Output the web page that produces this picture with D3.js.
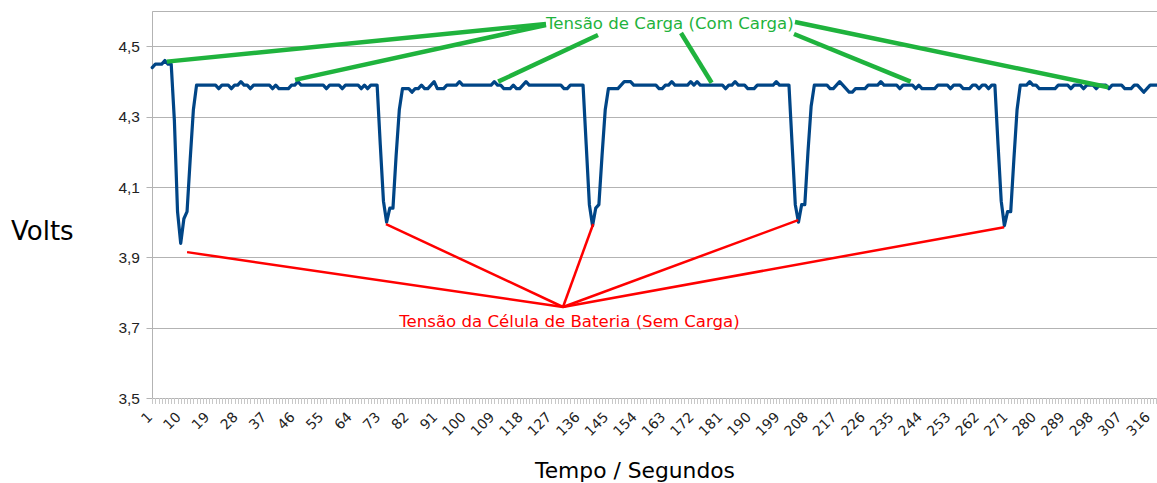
<!DOCTYPE html>
<html>
<head>
<meta charset="utf-8">
<script src="https://cdn.jsdelivr.net/npm/d3@7"></script>
<style>
  html, body { margin: 0; padding: 0; background: #fff; }
  svg { display: block; }
</style>
</head>
<body>
<svg id="chart" width="1157" height="483"></svg>
<script>
// Cell voltage sampled once per second (index 1..318)
const volts = [
  4.44, 4.45, 4.45, 4.45, 4.46, 4.45, 4.45, 4.29, 4.03, 3.94,
  4.01, 4.03, 4.18, 4.32, 4.39, 4.39, 4.39, 4.39, 4.39, 4.39,
  4.39, 4.38, 4.39, 4.39, 4.39, 4.38, 4.39, 4.39, 4.40, 4.39,
  4.39, 4.38, 4.39, 4.39, 4.39, 4.39, 4.39, 4.39, 4.38, 4.39,
  4.38, 4.38, 4.38, 4.38, 4.39, 4.39, 4.40, 4.39, 4.39, 4.39,
  4.39, 4.39, 4.39, 4.39, 4.39, 4.38, 4.39, 4.39, 4.39, 4.39,
  4.38, 4.39, 4.39, 4.39, 4.39, 4.39, 4.38, 4.39, 4.38, 4.39,
  4.39, 4.39, 4.22, 4.06, 4.00, 4.04, 4.04, 4.19, 4.32, 4.38,
  4.38, 4.38, 4.37, 4.38, 4.38, 4.39, 4.38, 4.38, 4.39, 4.40,
  4.38, 4.38, 4.38, 4.39, 4.39, 4.39, 4.39, 4.40, 4.39, 4.39,
  4.39, 4.39, 4.39, 4.39, 4.39, 4.39, 4.39, 4.39, 4.40, 4.39,
  4.39, 4.38, 4.38, 4.38, 4.39, 4.38, 4.38, 4.39, 4.40, 4.39,
  4.39, 4.39, 4.39, 4.39, 4.39, 4.39, 4.39, 4.39, 4.39, 4.39,
  4.38, 4.38, 4.39, 4.39, 4.39, 4.39, 4.39, 4.22, 4.05, 3.99,
  4.04, 4.05, 4.19, 4.32, 4.38, 4.38, 4.38, 4.38, 4.39, 4.40,
  4.40, 4.40, 4.39, 4.39, 4.39, 4.39, 4.39, 4.39, 4.39, 4.39,
  4.38, 4.38, 4.39, 4.39, 4.40, 4.39, 4.39, 4.39, 4.39, 4.39,
  4.40, 4.39, 4.40, 4.39, 4.39, 4.39, 4.39, 4.39, 4.39, 4.39,
  4.39, 4.38, 4.39, 4.39, 4.40, 4.39, 4.39, 4.39, 4.38, 4.38,
  4.38, 4.39, 4.39, 4.39, 4.39, 4.39, 4.39, 4.40, 4.39, 4.39,
  4.39, 4.39, 4.22, 4.05, 4.00, 4.05, 4.05, 4.20, 4.33, 4.39,
  4.39, 4.39, 4.39, 4.39, 4.38, 4.38, 4.39, 4.40, 4.39, 4.38,
  4.37, 4.37, 4.38, 4.38, 4.38, 4.38, 4.39, 4.39, 4.39, 4.39,
  4.40, 4.39, 4.39, 4.39, 4.39, 4.39, 4.38, 4.39, 4.39, 4.39,
  4.39, 4.38, 4.39, 4.38, 4.38, 4.38, 4.38, 4.38, 4.39, 4.39,
  4.39, 4.39, 4.38, 4.39, 4.39, 4.39, 4.38, 4.38, 4.38, 4.39,
  4.39, 4.38, 4.39, 4.39, 4.38, 4.39, 4.39, 4.22, 4.06, 3.99,
  4.03, 4.03, 4.18, 4.32, 4.39, 4.39, 4.39, 4.40, 4.39, 4.39,
  4.38, 4.38, 4.38, 4.38, 4.38, 4.38, 4.39, 4.39, 4.39, 4.39,
  4.38, 4.39, 4.39, 4.39, 4.38, 4.39, 4.39, 4.39, 4.38, 4.39,
  4.39, 4.39, 4.38, 4.39, 4.39, 4.39, 4.39, 4.38, 4.38, 4.38,
  4.39, 4.39, 4.38, 4.37, 4.38, 4.39, 4.39, 4.39
];

// Seconds on the category axis
const seconds = volts.map((_, i) => i + 1);

// Labelled seconds on the x axis
const xTickLabels = [1, 10, 19, 28, 37, 46, 55, 64, 73, 82, 91, 100, 109, 118,
  127, 136, 145, 154, 163, 172, 181, 190, 199, 208, 217, 226, 235, 244, 253,
  262, 271, 280, 289, 298, 307, 316];

// Voltage gridlines / labels
const yTickValues = [3.5, 3.7, 3.9, 4.1, 4.3, 4.5];
const yTickLabels = ["3,5", "3,7", "3,9", "4,1", "4,3", "4,5"];

// Points on the curve that each callout label points at: [second, volts]
const loadedPoints = [[5.6, 4.457], [46.1, 4.405], [110.2, 4.40], [177.6, 4.397], [240.4, 4.40], [302.8, 4.384]];
const restPoints = [[12.0, 3.915], [74.8, 3.995], [140.2, 3.995], [204.9, 4.006], [269.9, 3.986]];

const loadedLabel = "Tensão de Carga (Com Carga)";
const restLabel = "Tensão da Célula de Bateria (Sem Carga)";

// ---- layout ----
const W = 1157, H = 483;
const plot = { left: 152.5, top: 11.35, bottom: 398, step: 3.168, x0: 152.2 };

const svg = d3.select("#chart");

const x = d3.scaleLinear()
  .domain([1, seconds.length])
  .range([plot.x0, plot.x0 + (seconds.length - 1) * plot.step]);

const y = d3.scaleLinear()
  .domain([3.5, 4.6])
  .range([plot.bottom, plot.top]);

const gridColor = "#b3b3b3";

// horizontal gridlines
svg.append("g")
  .selectAll("line")
  .data(yTickValues)
  .join("line")
  .attr("x1", plot.left - 6)
  .attr("x2", W)
  .attr("y1", d => Math.round(y(d)) + 0.5)
  .attr("y2", d => Math.round(y(d)) + 0.5)
  .attr("stroke", gridColor)
  .attr("stroke-width", 1);

// top border of the plot area
svg.append("line")
  .attr("x1", plot.left).attr("x2", W)
  .attr("y1", Math.round(y(4.6)) + 0.5).attr("y2", Math.round(y(4.6)) + 0.5)
  .attr("stroke", gridColor).attr("stroke-width", 1);

// left axis line
svg.append("line")
  .attr("x1", plot.left).attr("x2", plot.left)
  .attr("y1", y(4.6)).attr("y2", plot.bottom + 6)
  .attr("stroke", gridColor).attr("stroke-width", 1);

// y tick labels
svg.append("g")
  .selectAll("text")
  .data(yTickValues)
  .join("text")
  .attr("x", 140)
  .attr("y", d => y(d) + 5.5)
  .attr("text-anchor", "end")
  .attr("font-family", "'Liberation Sans', Arial, sans-serif")
  .attr("font-size", 15.5)
  .attr("fill", "#222")
  .text((d, i) => yTickLabels[i]);

// per-second ticks below the x axis
svg.append("g")
  .selectAll("line")
  .data(seconds)
  .join("line")
  .attr("x1", d => Math.round(x(d)) + 0.5)
  .attr("x2", d => Math.round(x(d)) + 0.5)
  .attr("y1", plot.bottom)
  .attr("y2", plot.bottom + 6)
  .attr("stroke", "#c8c8c8")
  .attr("stroke-width", 1);

// x tick labels, rotated
svg.append("g")
  .selectAll("text")
  .data(xTickLabels)
  .join("text")
  .attr("transform", d => `translate(${x(d) + 1},${plot.bottom + 20}) rotate(-45)`)
  .attr("text-anchor", "end")
  .attr("font-family", "'DejaVu Sans', sans-serif")
  .attr("font-size", 14)
  .attr("fill", "#222")
  .text(d => d);

// axis titles
svg.append("text")
  .attr("x", 11).attr("y", 240)
  .attr("font-family", "'DejaVu Sans', sans-serif")
  .attr("font-size", 26)
  .attr("fill", "#000")
  .text("Volts");

svg.append("text")
  .attr("x", 635).attr("y", 478)
  .attr("text-anchor", "middle")
  .attr("font-family", "'DejaVu Sans', sans-serif")
  .attr("font-size", 21.8)
  .attr("fill", "#000")
  .text("Tempo / Segundos");

// voltage curve
const line = d3.line()
  .x((d, i) => x(seconds[i]))
  .y(d => y(d));

svg.append("path")
  .datum(volts)
  .attr("d", line)
  .attr("fill", "none")
  .attr("stroke", "#004586")
  .attr("stroke-width", 3.2)
  .attr("stroke-linejoin", "round")
  .attr("stroke-linecap", "round");

// callouts: loaded voltage (green)
const green = "#1fb33d";
const greenFrom = [[546, 24], [546, 25], [598, 35], [681, 33], [794, 34], [795, 22]];
svg.append("g")
  .selectAll("line")
  .data(loadedPoints)
  .join("line")
  .attr("x1", (d, i) => greenFrom[i][0])
  .attr("y1", (d, i) => greenFrom[i][1])
  .attr("x2", d => x(d[0]))
  .attr("y2", d => y(d[1]))
  .attr("stroke", green)
  .attr("stroke-width", 4.5);

svg.append("text")
  .attr("x", 546).attr("y", 28.5)
  .attr("font-family", "'DejaVu Sans', sans-serif")
  .attr("font-size", 16.6)
  .attr("fill", green)
  .text(loadedLabel);

// callouts: resting cell voltage (red)
const red = "#ff0000";
const redFrom = [563, 307];
svg.append("g")
  .selectAll("line")
  .data(restPoints)
  .join("line")
  .attr("x1", redFrom[0])
  .attr("y1", redFrom[1])
  .attr("x2", d => x(d[0]))
  .attr("y2", d => y(d[1]))
  .attr("stroke", red)
  .attr("stroke-width", 2.5);

svg.append("text")
  .attr("x", 569.5).attr("y", 327)
  .attr("text-anchor", "middle")
  .attr("font-family", "'DejaVu Sans', sans-serif")
  .attr("font-size", 16.6)
  .attr("fill", red)
  .text(restLabel);
</script>
</body>
</html>
